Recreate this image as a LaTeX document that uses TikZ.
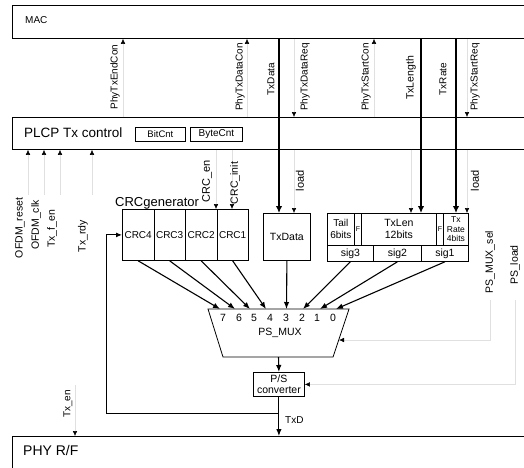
\documentclass[tikz,border=0pt]{standalone}
\usepackage{fontspec}
\setmainfont{Liberation Sans}
\usetikzlibrary{arrows.meta}
\newcommand{\myfs}[1]{\fontsize{#1}{#1}\selectfont}
\begin{document}
\begin{tikzpicture}[x=1pt,y=-1pt,
  box/.style={draw,line width=0.8pt,inner sep=0pt,anchor=north west},
  vlab/.style={rotate=90,font=\myfs{10},inner sep=0pt},
  plain/.style={inner sep=0pt},
  fat/.style={line width=1.6pt,-{Latex[length=7pt,width=6.5pt]}},
  mid/.style={line width=1.1pt,-{Latex[length=7pt,width=5.5pt]}},
  faint/.style={draw=black!12,line width=0.5pt,-{Latex[length=5pt,width=4.5pt,color=black]}},
]
\useasboundingbox (0,0) rectangle (524,467);
\clip (0,0) rectangle (524,467);

% ---- big boxes
\node[box,minimum width=520pt,minimum height=33pt] (mac) at (12,5) {};
\node[plain,anchor=west,font=\myfs{10}] (mactxt) at (25,20.5) {MAC};
\node[box,minimum width=520pt,minimum height=32pt] (plcp) at (12,117) {};
\node[plain,anchor=west,font=\myfs{13.5}] (plcptxt) at (24,133) {PLCP Tx control};
\node[box,minimum width=50pt,minimum height=14pt,font=\myfs{9.5}] (bitcnt) at (135,127) {BitCnt};
\node[box,minimum width=52pt,minimum height=14pt,font=\myfs{10}] (bytecnt) at (190,127) {ByteCnt};
\node[box,minimum width=520pt,minimum height=40pt] (phy) at (12,436) {};
\node[plain,anchor=west,font=\myfs{14}] (phytxt) at (23,450) {PHY R/F};

% ---- column coordinates
\coordinate (cEnd) at (123,0);
\coordinate (cDataCon) at (247,0);
\coordinate (cStartCon) at (374,0);
\coordinate (cTxData) at (279,0);
\coordinate (cDataReq) at (294,0);
\coordinate (cLen) at (421,0);
\coordinate (cRate) at (456,0);
\coordinate (cStartReq) at (467,0);
\coordinate (cLoadA) at (294,0);
\coordinate (cLoadB) at (467,0);
\coordinate (cLoadC) at (411,0);
\coordinate (cCrcEn) at (216,0);
\coordinate (cCrcInit) at (232,0);

% ---- CRC generator
\node[plain,anchor=west,font=\myfs{13}] (crcg) at (115,203) {CRCgenerator};
\foreach \i/\x in {4/122,3/153.5,2/185,1/216.5}
  \node[box,minimum width=31.5pt,minimum height=51pt,font=\myfs{10}] (crc\i) at (\x,209) {CRC\i};

% ---- TxData register
\node[box,minimum width=47pt,minimum height=47pt,font=\myfs{10.5}] (txdata) at (263,213) {TxData};

% ---- header register
\node[box,minimum width=27pt,minimum height=32pt,align=center,font=\fontsize{10}{12}\selectfont] (tail) at (327,213) {Tail\\6bits};
\node[box,minimum width=7pt,minimum height=32pt,font=\myfs{7}] (fa) at (354,213) {F};
\node[box,minimum width=75pt,minimum height=32pt,align=center,font=\fontsize{10.5}{12}\selectfont] (txlen) at (361,213) {TxLen\\12bits};
\node[box,minimum width=7pt,minimum height=32pt,font=\myfs{7}] (fb) at (436,213) {F};
\node[box,minimum width=25pt,minimum height=32pt,align=center,font=\fontsize{8.5}{9.5}\selectfont] (txrate) at (443,213) {Tx\\Rate\\4bits};
\node[box,minimum width=46pt,minimum height=16pt,font=\myfs{10.5}] (sig3) at (327,245) {sig3};
\node[box,minimum width=48pt,minimum height=16pt,font=\myfs{10.5}] (sig2) at (373,245) {sig2};
\node[box,minimum width=47pt,minimum height=16pt,font=\myfs{10.5}] (sig1) at (421,245) {sig1};

% ---- PS_MUX
\draw[line width=0.8pt] (208,309) -- (349,309) -- (333,357) -- (223,357) -- cycle;
\node[plain,font=\myfs{10.5}] (mux) at (280,333) {PS\_MUX};
\foreach \n/\x in {7/223,6/239,5/254,4/270,3/286,2/302,1/317,0/333}
  \node[plain,font=\myfs{10.5}] (n\n) at (\x,317.5) {\n};
\coordinate (i7) at (220,309);
\coordinate (i6) at (235,309);
\coordinate (i5) at (250,309);
\coordinate (i4) at (266,309);
\coordinate (i3) at (286.5,309);
\coordinate (i2) at (303,309);
\coordinate (i1) at (320,309);
\coordinate (i0) at (336,309);
\coordinate (muxout) at (278.5,357);
\coordinate (muxsel) at (339,340);

% ---- P/S converter
\node[box,minimum width=51pt,minimum height=24pt,align=center,font=\fontsize{10.5}{11}\selectfont] (ps) at (253,372) {P/S\\converter};

% ---- data arrows into mux
\draw[mid] (crc4.south) -- (i7);
\draw[mid] (crc3.south) -- (i6);
\draw[mid] (crc2.south) -- (i5);
\draw[mid] (crc1.south) -- (i4);
\draw[mid] (txdata.south) -- (i3);
\draw[mid] (sig3.south) -- (i2);
\draw[mid] (sig2.south) -- (i1);
\draw[mid] (sig1.south) -- (i0);
\draw[mid] (muxout) -- (ps.north);

% ---- TxD and feedback
\draw[mid] (ps.south) -- (ps.south |- phy.north);
\node[plain,anchor=west,font=\myfs{10}] (txd) at (285,420) {TxD};
\coordinate (tap) at (278.5,413);
\coordinate (fbl) at (106,413);
\draw[line width=1pt,-{Latex[length=6pt,width=5pt]}] (tap) -- (fbl) |- (crc4.west);

% ---- MAC <-> PLCP signals
\draw[faint] (cEnd |- plcp.north) -- (cEnd |- mac.south);
\draw[faint] (cDataCon |- plcp.north) -- (cDataCon |- mac.south);
\draw[faint] (cStartCon |- plcp.north) -- (cStartCon |- mac.south);
\draw[faint] (cDataReq |- mac.south) -- (cDataReq |- plcp.north);
\draw[faint] (cStartReq |- mac.south) -- (cStartReq |- plcp.north);
\draw[fat] (cTxData |- mac.south) -- (cTxData |- txdata.north);
\draw[fat] (cLen |- mac.south) -- (cLen |- txlen.north);
\draw[fat] (cRate |- mac.south) -- (cRate |- txrate.north);

\node[vlab] (lEnd) at (115,77) {PhyTxEndCon};
\node[vlab] (lDataCon) at (240,77) {PhyTxDataCon};
\node[vlab] (lTxData) at (271,79) {TxData};
\node[vlab] (lDataReq) at (305,77) {PhyTxDataReq};
\node[vlab] (lStartCon) at (366,77) {PhyTxStartCon};
\node[vlab,font=\myfs{10.5}] (lLen) at (411,78) {TxLength};
\node[vlab] (lRate) at (443,79) {TxRate};
\node[vlab] (lStartReq) at (475,77) {PhyTxStartReq};

% ---- PLCP control outputs
\draw[faint] (cLoadA |- plcp.south) -- (cLoadA |- txdata.north);
\draw[faint] (cLoadB |- plcp.south) -- (cLoadB |- txrate.north);
\draw[faint] (cLoadC |- plcp.south) -- (cLoadC |- txlen.north);
\draw[faint] (cCrcEn |- plcp.south) -- (cCrcEn |- crc1.north);
\draw[faint] (cCrcInit |- plcp.south) -- (cCrcInit |- crc1.north);
\node[vlab,font=\myfs{11}] (lLoadA) at (300,181) {load};
\node[vlab,font=\myfs{11}] (lLoadB) at (475,181) {load};
\node[vlab,font=\myfs{11}] (lCrcEn) at (207,181) {CRC\_en};
\node[vlab,font=\myfs{10.5}] (lCrcInit) at (235,183) {CRC\_init};

% ---- PLCP inputs
\coordinate (sReset) at (28,195);
\coordinate (sClk) at (44,195);
\coordinate (sFen) at (60,195);
\coordinate (sRdy) at (92,195);
\draw[faint] (sReset) -- (sReset |- plcp.south);
\draw[faint] (sClk) -- (sClk |- plcp.south);
\draw[faint] (sFen) -- (sFen |- plcp.south);
\draw[faint] (sRdy) -- (sRdy |- plcp.south);
\node[vlab,font=\myfs{10.5}] (lReset) at (20,228) {OFDM\_reset};
\node[vlab,font=\myfs{10.5}] (lClk) at (36,225) {OFDM\_clk};
\node[vlab,font=\myfs{10.5}] (lFen) at (52,229) {Tx\_f\_en};
\node[vlab,font=\myfs{10.5}] (lRdy) at (83,236) {Tx\_rdy};

% ---- mux / P/S control
\coordinate (sSel) at (490,300);
\coordinate (sLoad) at (515,300);
\draw[faint] (sSel) |- (muxsel);
\draw[faint] (sLoad) |- (ps.east);
\node[vlab,font=\myfs{10.5}] (lSel) at (490,262) {PS\_MUX\_sel};
\node[vlab,font=\myfs{10.5}] (lPsLoad) at (515,265) {PS\_load};

% ---- Tx_en
\coordinate (sTxEn) at (75,385);
\draw[faint] (sTxEn) -- (sTxEn |- phy.north);
\node[vlab] (lTxEn) at (68,404) {Tx\_en};
\end{tikzpicture}
\end{document}
